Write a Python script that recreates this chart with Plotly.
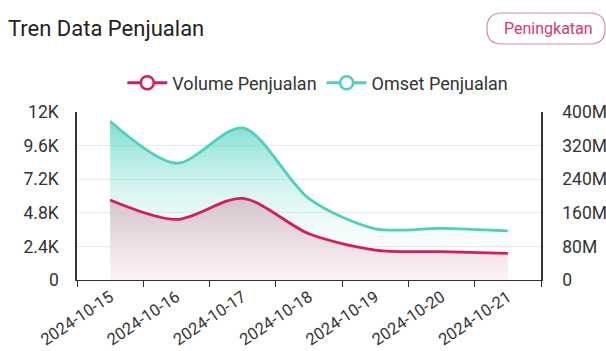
import plotly.graph_objects as go

dates = ["2024-10-15", "2024-10-16", "2024-10-17", "2024-10-18", "2024-10-19", "2024-10-20", "2024-10-21"]
volume = [5720, 4330, 5830, 3300, 2140, 2020, 1900]
omset = [378e6, 278e6, 362e6, 194e6, 122e6, 123e6, 117e6]

vol_ticks = [0, 2400, 4800, 7200, 9600, 12000]
vol_labels = ["0", "2.4K", "4.8K", "7.2K", "9.6K", "12K"]
oms_ticks = [0, 80e6, 160e6, 240e6, 320e6, 400e6]
oms_labels = ["0", "80M", "160M", "240M", "320M", "400M"]

W, H = 606, 351
L, R, T, B = 77.4, 541, 112, 280

RED = "#d81b60"
CYAN = "#4fcfbf"
FONT = "Roboto"
SMOOTH = 0.85


def px(x, y):
    return (x - L) / (R - L), (B - y) / (B - T)


fig = go.Figure()

# Omset (right axis, base layer)
fig.add_trace(go.Scatter(
    x=dates, y=omset, yaxis="y", mode="lines", line=dict(color=CYAN, width=2.8, shape="spline", smoothing=SMOOTH),
    fill="tozeroy",
    fillgradient=dict(type="vertical", start=0, stop=max(omset),
                      colorscale=[[0, "rgba(255,255,255,0)"], [1, "rgba(82,212,193,0.75)"]]),
    showlegend=False, hoverinfo="skip"))

# Volume (left axis, overlay on top)
fig.add_trace(go.Scatter(
    x=dates, y=volume, yaxis="y2", mode="lines", line=dict(color=RED, width=2.8, shape="spline", smoothing=SMOOTH),
    fill="tozeroy",
    fillgradient=dict(type="vertical", start=0, stop=max(volume),
                      colorscale=[[0, "rgba(255,242,247,0.92)"], [1, "rgba(210,192,200,0.92)"]]),
    showlegend=False, hoverinfo="skip"))

# legend entries
fig.add_trace(go.Scatter(x=[None], y=[None], yaxis="y2", mode="lines+markers", name="Volume Penjualan",
                         line=dict(color=RED, width=3),
                         marker=dict(symbol="circle", size=13, color="white", line=dict(color=RED, width=2.5))))
fig.add_trace(go.Scatter(x=[None], y=[None], yaxis="y", mode="lines+markers", name="Omset Penjualan",
                         line=dict(color=CYAN, width=3),
                         marker=dict(symbol="circle", size=13, color="white", line=dict(color=CYAN, width=2.5))))

# badge
x0, y0 = px(487, 13)
x1, y1 = px(605, 44)
rx = 15 / (R - L)
ry = 15 / (B - T)
path = (f"M {x0+rx},{y0} L {x1-rx},{y0} Q {x1},{y0} {x1},{y0-ry} L {x1},{y1+ry} Q {x1},{y1} {x1-rx},{y1} "
        f"L {x0+rx},{y1} Q {x0},{y1} {x0},{y1+ry} L {x0},{y0-ry} Q {x0},{y0} {x0+rx},{y0} Z")
fig.add_shape(type="path", path=path, xref="paper", yref="paper",
              line=dict(color="#d98aa6", width=1.2), fillcolor="rgba(0,0,0,0)")
bx, by = px(548, 28)
fig.add_annotation(x=bx, y=by, xref="paper", yref="paper", text="Peningkatan", showarrow=False,
                   font=dict(family=FONT, size=16, color="#d63a6e"), xanchor="center", yanchor="middle")

lx, ly = px(318, 83)

fig.update_layout(
    width=W, height=H,
    margin=dict(l=L, r=W - R, t=T, b=H - B, autoexpand=False),
    paper_bgcolor="white", plot_bgcolor="white",
    font=dict(family=FONT, color="#333"),
    title=dict(text="Tren Data Penjualan", x=8 / W, xanchor="left", xref="container",
               y=1 - 28 / H, yanchor="middle", yref="container",
               font=dict(family=FONT, size=22, color="#222")),
    legend=dict(orientation="h", x=lx, y=ly, xanchor="center", yanchor="middle",
                font=dict(family=FONT, size=18, color="#333"), itemwidth=40, bgcolor="rgba(0,0,0,0)"),
    xaxis=dict(type="category", range=[-0.5, 6.5], tickson="boundaries", ticks="outside", ticklen=6,
               tickcolor="#333", showline=True, linecolor="#333", linewidth=1.2, showgrid=False,
               tickangle=-34, tickfont=dict(family=FONT, size=16.5, color="#333"), zeroline=False,
               automargin=False),
    yaxis=dict(side="right", range=[0, 400e6], tickvals=oms_ticks, ticktext=oms_labels, showgrid=False,
               showline=True, linecolor="#333", linewidth=1.5, zeroline=False, ticks="",
               ticklabelstandoff=16, tickfont=dict(family=FONT, size=17.5, color="#333"), automargin=False),
    yaxis2=dict(side="left", overlaying="y", range=[0, 12000], tickvals=vol_ticks, ticktext=vol_labels,
                showgrid=True, gridcolor="#e8e8e8", gridwidth=1.2, showline=True, linecolor="#333",
                linewidth=1.5, zeroline=False, ticks="", ticklabelstandoff=13,
                tickfont=dict(family=FONT, size=17.5, color="#333"), automargin=False),
)

fig.write_html("out.html")
